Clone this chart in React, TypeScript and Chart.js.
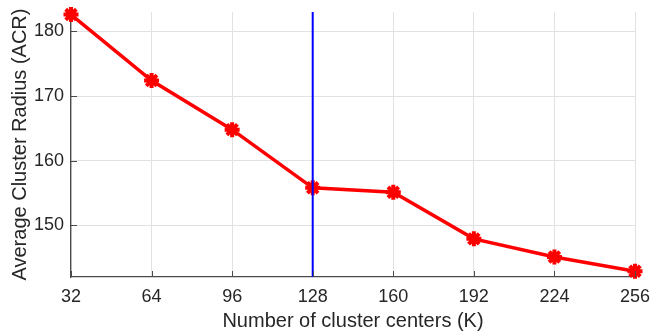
import React, { useEffect, useRef } from "react";
import { Chart, registerables } from "chart.js";

Chart.register(...registerables);

const kValues = [32, 64, 96, 128, 160, 192, 224, 256];
const acrValues = [182.6, 172.4, 164.8, 155.8, 155.1, 147.9, 145.1, 142.9];
const xTicks = [32, 64, 96, 128, 160, 192, 224, 256];
const yTicks = [150, 160, 170, 180];
const chosenK = 128;
const yMin = 142;
const yMax = 183;

const FONT = "'Liberation Sans', Arial, Helvetica, sans-serif";
const AXIS_COLOR = "#4a4a4a";
const TEXT_COLOR = "#262626";

const innerTicks = {
  id: "innerTicks",
  afterDraw(chart: any) {
    const { ctx, chartArea, scales } = chart;
    const xs = scales.x;
    const ys = scales.y;
    ctx.save();
    ctx.strokeStyle = AXIS_COLOR;
    ctx.lineWidth = 1;
    ctx.beginPath();
    xTicks.forEach((v) => {
      const px = Math.round(xs.getPixelForValue(v)) + 0.5;
      ctx.moveTo(px, chartArea.bottom);
      ctx.lineTo(px, chartArea.bottom - 6);
    });
    yTicks.forEach((v) => {
      const py = Math.round(ys.getPixelForValue(v)) + 0.5;
      ctx.moveTo(chartArea.left, py);
      ctx.lineTo(chartArea.left + 6, py);
    });
    ctx.stroke();
    ctx.restore();
  },
};

export default function App() {
  const ref = useRef<HTMLCanvasElement>(null);
  useEffect(() => {
    document.body.style.margin = "0";
    const chart = new Chart(ref.current!, {
      type: "line",
      data: {
        datasets: [
          {
            data: [
              { x: chosenK, y: yMin },
              { x: chosenK, y: yMax },
            ],
            borderColor: "#0000ff",
            borderWidth: 2,
            pointRadius: 0,
            clip: false,
          },
          {
            data: kValues.map((k, i) => ({ x: k, y: acrValues[i] })),
            borderColor: "#ff0000",
            backgroundColor: "#ff0000",
            borderWidth: 3.5,
            pointStyle: "star",
            pointRadius: 7.5,
            pointBorderWidth: 4,
            pointBorderColor: "#ff0000",
            pointBackgroundColor: "#ff0000",
            clip: false,
          },
        ],
      },
      options: {
        animation: false,
        responsive: false,
        layout: { padding: { top: 12, right: 16, left: 0, bottom: 0 } },
        plugins: { legend: { display: false }, tooltip: { enabled: false } },
        scales: {
          x: {
            type: "linear",
            min: 32,
            max: 256,
            afterBuildTicks: (s: any) => {
              s.ticks = xTicks.map((v) => ({ value: v }));
            },
            afterFit: (s: any) => {
              s.height = 56;
              s.paddingLeft = 0;
              s.paddingRight = 0;
            },
            grid: { color: "#e2e2e2", drawTicks: false, lineWidth: 1 },
            border: { display: true, color: AXIS_COLOR, width: 1.3 },
            ticks: {
              color: TEXT_COLOR,
              font: { family: FONT, size: 18 },
              padding: 9,
              maxRotation: 0,
            },
            title: {
              display: true,
              text: "Number of cluster centers (K)",
              color: TEXT_COLOR,
              font: { family: FONT, size: 20 },
              padding: { top: 0, bottom: 0 },
            },
          },
          y: {
            type: "linear",
            min: yMin,
            max: yMax,
            afterBuildTicks: (s: any) => {
              s.ticks = yTicks.map((v) => ({ value: v }));
            },
            afterFit: (s: any) => {
              s.width = 71;
              s.paddingTop = 0;
              s.paddingBottom = 0;
            },
            grid: { color: "#e2e2e2", drawTicks: false, lineWidth: 1 },
            border: { display: true, color: AXIS_COLOR, width: 1.3 },
            ticks: {
              color: TEXT_COLOR,
              font: { family: FONT, size: 18 },
              padding: 7,
            },
            title: {
              display: true,
              text: "Average Cluster Radius (ACR)",
              color: TEXT_COLOR,
              font: { family: FONT, size: 20 },
              padding: { top: 8, bottom: 0 },
            },
          },
        },
      },
      plugins: [innerTicks],
    } as any);
    return () => chart.destroy();
  }, []);
  return (
    <div style={{ width: 651, height: 333, background: "#fff" }}>
      <canvas ref={ref} width={651} height={333} style={{ display: "block" }} />
    </div>
  );
}
